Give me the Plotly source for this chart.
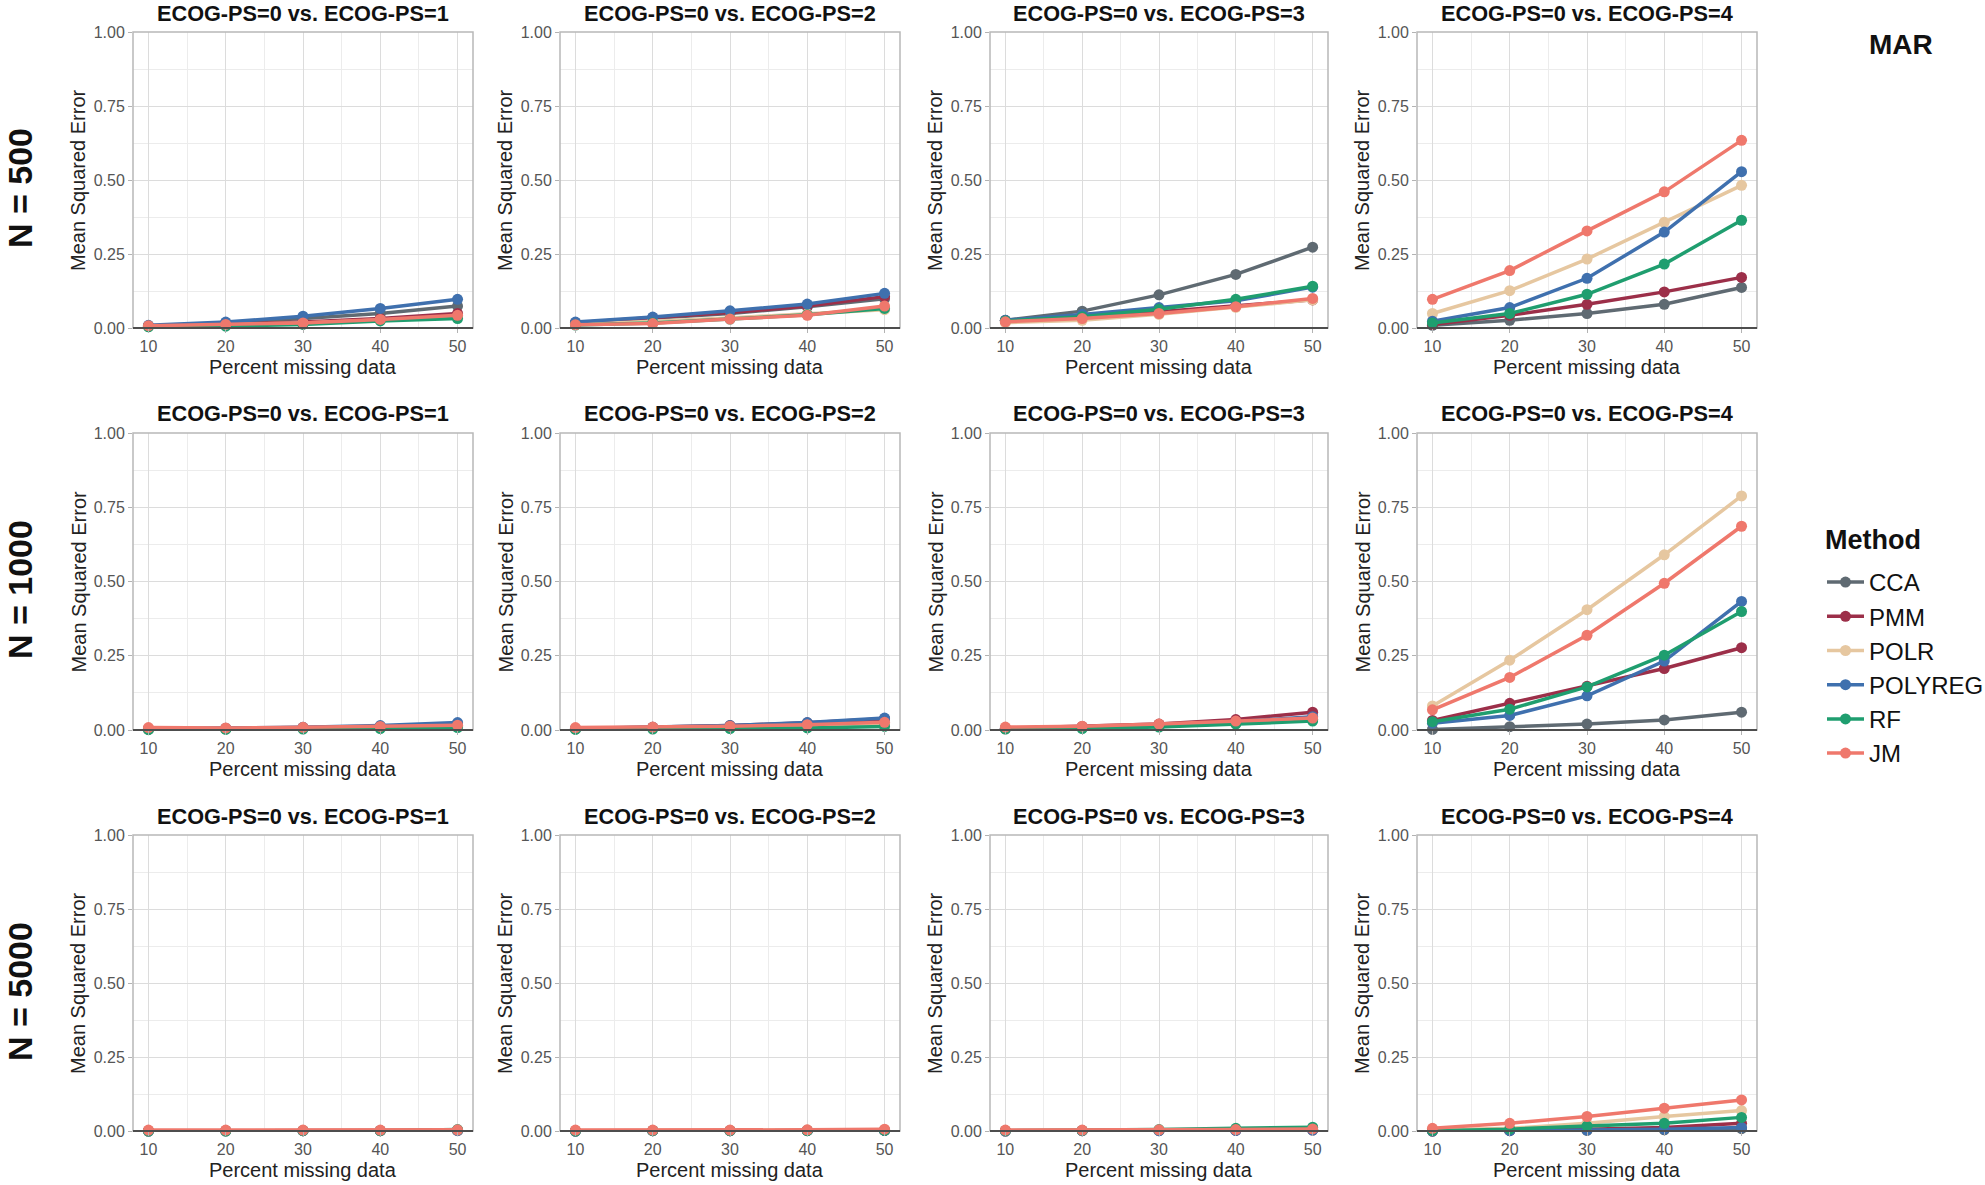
import plotly.graph_objects as go

W, H = 1985, 1185

PCT_MISSING = [10, 20, 30, 40, 50]
METHODS = ["CCA", "PMM", "POLR", "POLYREG", "RF", "JM"]
COLORS = {"CCA": "#5f6a72", "PMM": "#9c2f49", "POLR": "#e6c7a0",
          "POLYREG": "#3f70ae", "RF": "#1f9e6f", "JM": "#ef786c"}
ROW_LABELS = ["N = 500", "N = 1000", "N = 5000"]
COL_TITLES = ["ECOG-PS=0 vs. ECOG-PS=1", "ECOG-PS=0 vs. ECOG-PS=2",
              "ECOG-PS=0 vs. ECOG-PS=3", "ECOG-PS=0 vs. ECOG-PS=4"]
Y_TICKS = [0, 0.25, 0.5, 0.75, 1.0]
X_TICKS = [10, 20, 30, 40, 50]

# ---- N = 500 ----
N500_PS1 = {
    "CCA":     [0.007, 0.017, 0.032, 0.049, 0.074],
    "PMM":     [0.006, 0.012, 0.020, 0.032, 0.049],
    "POLR":    [0.005, 0.010, 0.017, 0.027, 0.037],
    "POLYREG": [0.009, 0.020, 0.040, 0.066, 0.097],
    "RF":      [0.004, 0.006, 0.012, 0.024, 0.032],
    "JM":      [0.008, 0.012, 0.017, 0.029, 0.043],
}
N500_PS2 = {
    "CCA":     [0.017, 0.032, 0.049, 0.072, 0.099],
    "PMM":     [0.018, 0.035, 0.052, 0.074, 0.106],
    "POLR":    [0.012, 0.022, 0.034, 0.048, 0.062],
    "POLYREG": [0.020, 0.037, 0.058, 0.081, 0.117],
    "RF":      [0.010, 0.017, 0.030, 0.045, 0.066],
    "JM":      [0.011, 0.015, 0.030, 0.043, 0.074],
}
N500_PS3 = {
    "CCA":     [0.026, 0.057, 0.112, 0.181, 0.273],
    "PMM":     [0.025, 0.038, 0.055, 0.075, 0.095],
    "POLR":    [0.018, 0.026, 0.046, 0.070, 0.095],
    "POLYREG": [0.026, 0.046, 0.069, 0.092, 0.138],
    "RF":      [0.024, 0.038, 0.063, 0.097, 0.141],
    "JM":      [0.021, 0.032, 0.049, 0.072, 0.100],
}
N500_PS4 = {
    "CCA":     [0.009, 0.026, 0.049, 0.080, 0.137],
    "PMM":     [0.012, 0.043, 0.080, 0.122, 0.171],
    "POLR":    [0.049, 0.126, 0.233, 0.357, 0.482],
    "POLYREG": [0.023, 0.069, 0.168, 0.324, 0.528],
    "RF":      [0.017, 0.049, 0.114, 0.216, 0.364],
    "JM":      [0.097, 0.194, 0.328, 0.460, 0.634],
}
# ---- N = 1000 ----
N1000_PS1 = {
    "CCA":     [0.002, 0.004, 0.006, 0.010, 0.015],
    "PMM":     [0.003, 0.005, 0.008, 0.012, 0.020],
    "POLR":    [0.002, 0.004, 0.006, 0.009, 0.013],
    "POLYREG": [0.004, 0.006, 0.009, 0.015, 0.025],
    "RF":      [0.001, 0.002, 0.003, 0.005, 0.008],
    "JM":      [0.008, 0.007, 0.009, 0.012, 0.016],
}
N1000_PS2 = {
    "CCA":     [0.004, 0.008, 0.013, 0.020, 0.030],
    "PMM":     [0.004, 0.009, 0.015, 0.024, 0.038],
    "POLR":    [0.003, 0.006, 0.010, 0.015, 0.022],
    "POLYREG": [0.005, 0.009, 0.015, 0.025, 0.040],
    "RF":      [0.002, 0.003, 0.005, 0.007, 0.012],
    "JM":      [0.008, 0.010, 0.013, 0.018, 0.026],
}
N1000_PS3 = {
    "CCA":     [0.004, 0.008, 0.014, 0.022, 0.035],
    "PMM":     [0.006, 0.012, 0.020, 0.035, 0.060],
    "POLR":    [0.004, 0.008, 0.013, 0.022, 0.035],
    "POLYREG": [0.005, 0.010, 0.017, 0.028, 0.045],
    "RF":      [0.003, 0.005, 0.010, 0.020, 0.030],
    "JM":      [0.010, 0.013, 0.020, 0.030, 0.040],
}
N1000_PS4 = {
    "CCA":     [0.002, 0.011, 0.020, 0.034, 0.060],
    "PMM":     [0.032, 0.090, 0.147, 0.207, 0.277],
    "POLR":    [0.081, 0.235, 0.405, 0.590, 0.788],
    "POLYREG": [0.023, 0.049, 0.115, 0.232, 0.433],
    "RF":      [0.028, 0.070, 0.145, 0.252, 0.399],
    "JM":      [0.068, 0.177, 0.319, 0.494, 0.686],
}
# ---- N = 5000 ----
N5000_PS1 = {
    "CCA":     [0.000, 0.000, 0.001, 0.001, 0.001],
    "PMM":     [0.000, 0.001, 0.001, 0.001, 0.002],
    "POLR":    [0.000, 0.001, 0.001, 0.001, 0.002],
    "POLYREG": [0.000, 0.001, 0.001, 0.001, 0.002],
    "RF":      [0.000, 0.000, 0.001, 0.001, 0.005],
    "JM":      [0.003, 0.003, 0.003, 0.003, 0.004],
}
N5000_PS2 = {
    "CCA":     [0.000, 0.001, 0.001, 0.001, 0.002],
    "PMM":     [0.000, 0.001, 0.001, 0.002, 0.002],
    "POLR":    [0.001, 0.001, 0.002, 0.003, 0.004],
    "POLYREG": [0.000, 0.001, 0.001, 0.002, 0.002],
    "RF":      [0.000, 0.001, 0.001, 0.001, 0.002],
    "JM":      [0.003, 0.003, 0.003, 0.004, 0.006],
}
N5000_PS3 = {
    "CCA":     [0.000, 0.001, 0.001, 0.002, 0.003],
    "PMM":     [0.000, 0.001, 0.002, 0.003, 0.004],
    "POLR":    [0.000, 0.001, 0.002, 0.004, 0.006],
    "POLYREG": [0.000, 0.001, 0.001, 0.002, 0.003],
    "RF":      [0.001, 0.002, 0.005, 0.009, 0.013],
    "JM":      [0.003, 0.003, 0.004, 0.005, 0.007],
}
N5000_PS4 = {
    "CCA":     [0.000, 0.001, 0.002, 0.004, 0.008],
    "PMM":     [0.000, 0.002, 0.006, 0.012, 0.026],
    "POLR":    [0.003, 0.009, 0.026, 0.049, 0.069],
    "POLYREG": [0.000, 0.001, 0.003, 0.006, 0.012],
    "RF":      [0.001, 0.006, 0.017, 0.026, 0.046],
    "JM":      [0.009, 0.026, 0.049, 0.077, 0.105],
}

PANELS = [
    [N500_PS1, N500_PS2, N500_PS3, N500_PS4],
    [N1000_PS1, N1000_PS2, N1000_PS3, N1000_PS4],
    [N5000_PS1, N5000_PS2, N5000_PS3, N5000_PS4],
]

# ---- layout geometry (pixels) ----
COL_X = [(133, 473), (560, 900), (990, 1328), (1417, 1757)]
ROW_Y = [(32, 328), (433, 730), (835, 1131)]
ROW_LABEL_Y = [188, 590, 992]

FONT = "Liberation Sans, Arial, Helvetica, sans-serif"
px = lambda x: x / W
py = lambda y: 1 - y / H

fig = go.Figure()
layout = dict(
    width=W, height=H, margin=dict(l=0, r=0, t=0, b=0, autoexpand=False),
    paper_bgcolor="white", plot_bgcolor="white",
    font=dict(family=FONT, color="#222222"),
    showlegend=True,
    legend=dict(
        x=px(1822), y=py(560), xanchor="left", yanchor="top",
        font=dict(size=24, color="#111111"),
        itemwidth=37, tracegroupgap=0, bgcolor="rgba(0,0,0,0)",
    ),
)
annotations = []
shapes = []

for r in range(3):
    for c in range(4):
        i = r * 4 + c + 1
        sfx = "" if i == 1 else str(i)
        x0, x1 = COL_X[c]
        ytop, ybot = ROW_Y[r]
        layout["xaxis" + sfx] = dict(
            domain=[px(x0), px(x1)], anchor="y" + sfx, range=[8, 52],
            tickvals=X_TICKS, ticks="outside", ticklen=4, tickcolor="#b3b3b3",
            tickfont=dict(size=16, color="#555555"),
            showgrid=True, gridcolor="#dcdcdc", gridwidth=1,
            minor=dict(tickvals=[15, 25, 35, 45], showgrid=True,
                       gridcolor="#ececec", gridwidth=1),
            zeroline=False, showline=False, fixedrange=True,
        )
        layout["yaxis" + sfx] = dict(
            domain=[py(ybot), py(ytop)], anchor="x" + sfx, range=[0, 1],
            tickvals=Y_TICKS, tickformat=".2f", ticks="outside", ticklen=4,
            tickcolor="#b3b3b3", tickfont=dict(size=16, color="#555555"),
            showgrid=True, gridcolor="#dcdcdc", gridwidth=1,
            minor=dict(tickvals=[0.125, 0.375, 0.625, 0.875], showgrid=True,
                       gridcolor="#ececec", gridwidth=1),
            zeroline=False, showline=False, fixedrange=True,
        )
        data = PANELS[r][c]
        for m in METHODS:
            fig.add_trace(go.Scatter(
                x=PCT_MISSING, y=data[m], mode="lines+markers", name=m,
                legendgroup=m, showlegend=(i == 1),
                line=dict(color=COLORS[m], width=3.5),
                marker=dict(color=COLORS[m], size=11, symbol="circle"),
                cliponaxis=False,
                xaxis="x" + sfx, yaxis="y" + sfx,
            ))
        # panel border + bottom axis line
        shapes.append(dict(type="rect", xref=f"x{sfx} domain", yref=f"y{sfx} domain",
                           x0=0, x1=1, y0=0, y1=1,
                           line=dict(color="#b8b8b8", width=1.5), layer="above"))
        shapes.append(dict(type="line", xref=f"x{sfx} domain", yref=f"y{sfx} domain",
                           x0=0, x1=1, y0=0, y1=0,
                           line=dict(color="#4d4d4d", width=2.2), layer="above"))
        # panel title
        annotations.append(dict(
            text="<b>" + COL_TITLES[c] + "</b>", x=px((x0 + x1) / 2), y=py(ytop - 19),
            xref="paper", yref="paper", xanchor="center", yanchor="middle",
            showarrow=False, font=dict(size=21.7, color="#111111")))
        # axis titles
        annotations.append(dict(
            text="Percent missing data", x=px((x0 + x1) / 2), y=py(ybot + 39),
            xref="paper", yref="paper", xanchor="center", yanchor="middle",
            showarrow=False, font=dict(size=20, color="#222222")))
        annotations.append(dict(
            text="Mean Squared Error", x=px(x0 - 55), y=py((ytop + ybot) / 2),
            xref="paper", yref="paper", xanchor="center", yanchor="middle",
            textangle=-90, showarrow=False, font=dict(size=20, color="#222222")))

for r in range(3):
    annotations.append(dict(
        text="<b>" + ROW_LABELS[r] + "</b>", x=px(20), y=py(ROW_LABEL_Y[r]),
        xref="paper", yref="paper", xanchor="center", yanchor="middle",
        textangle=-90, showarrow=False, font=dict(size=34, color="#111111")))

annotations.append(dict(
    text="<b>MAR</b>", x=px(1901), y=py(45), xref="paper", yref="paper",
    xanchor="center", yanchor="middle", showarrow=False,
    font=dict(size=28, color="#111111")))

annotations.append(dict(
    text="<b>Method</b>", x=px(1823), y=py(540), xref="paper", yref="paper",
    xanchor="left", yanchor="middle", showarrow=False,
    font=dict(size=27, color="#111111")))

layout["annotations"] = annotations
layout["shapes"] = shapes
fig.update_layout(**layout)
fig.write_html("out.html")
